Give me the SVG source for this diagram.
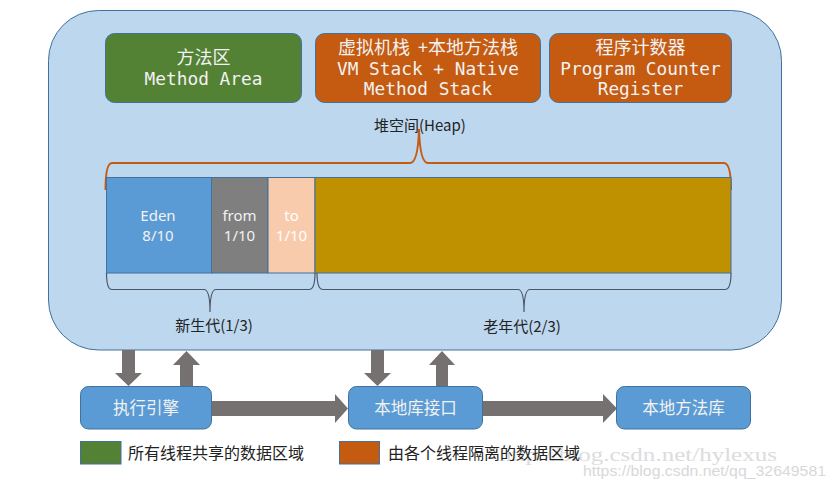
<svg xmlns="http://www.w3.org/2000/svg" width="833" height="489" viewBox="0 0 833 489">
<style>
.cjk{font-family:"Noto Sans CJK SC","Liberation Sans",sans-serif}
.mono{font-family:"DejaVu Sans Mono","Noto Sans CJK SC",monospace}
.w{fill:#f2f2f2}
.d{fill:#222}
.box{stroke:#41719c;stroke-width:1}
.arr{fill:#767171}
.brace{fill:none;stroke:#4a5868;stroke-width:1.2}
.lat{font-family:"Noto Sans","Liberation Sans",sans-serif}
</style>
<rect x="0" y="0" width="833" height="489" fill="#ffffff"/>
<g id="jvm">
<rect x="48.5" y="10.5" width="733" height="339.5" rx="50" ry="50" fill="#bdd7ee" stroke="#41719c" stroke-width="1"/>
</g>
<g id="method-area">
<rect class="box" x="105.5" y="33.5" width="196" height="69" rx="9" fill="#548235"/>
<text class="cjk w" x="203.5" y="64" font-size="18" text-anchor="middle">方法区</text>
<text class="mono w" x="203.5" y="84.5" font-size="17.8" text-anchor="middle">Method Area</text>
</g>
<g id="vm-stack">
<rect class="box" x="315.5" y="33.5" width="225" height="69" rx="9" fill="#c55a11"/>
<text class="cjk w" x="428" y="54" font-size="18" text-anchor="middle" xml:space="preserve">虚拟机栈  +本地方法栈</text>
<text class="mono w" x="428" y="74.5" font-size="17.8" text-anchor="middle">VM Stack + Native</text>
<text class="mono w" x="428" y="94.5" font-size="17.8" text-anchor="middle">Method Stack</text>
</g>
<g id="pc-register">
<rect class="box" x="549.5" y="33.5" width="182" height="69" rx="9" fill="#c55a11"/>
<text class="cjk w" x="640.5" y="54" font-size="18" text-anchor="middle">程序计数器</text>
<text class="mono w" x="640.5" y="74.5" font-size="17.8" text-anchor="middle">Program Counter</text>
<text class="mono w" x="640.5" y="94.5" font-size="17.8" text-anchor="middle">Register</text>
</g>
<g id="heap">
<text class="cjk d" x="420" y="131" font-size="15" text-anchor="middle">堆空间(Heap)</text>
<path d="M105.5,190 Q105.5,163 112,163 L410,163 Q418,163 419,129 Q420,163 428,163 L724,163 Q731,163 731,190" fill="none" stroke="#c55a11" stroke-width="2"/>
</g>
<g id="eden">
<rect class="box" x="106.5" y="177.5" width="105" height="95.5" fill="#5b9bd5"/>
<text class="lat w" x="158" y="221" font-size="15" text-anchor="middle">Eden</text>
<text class="lat w" x="158" y="241" font-size="15" text-anchor="middle">8/10</text>
</g>
<g id="from">
<rect class="box" x="211.5" y="177.5" width="56.5" height="95.5" fill="#7f7f7f"/>
<text class="lat w" x="239.5" y="221" font-size="15" text-anchor="middle">from</text>
<text class="lat w" x="239.5" y="241" font-size="15" text-anchor="middle">1/10</text>
</g>
<g id="to">
<rect class="box" x="268" y="177.5" width="47" height="95.5" fill="#f8cbad"/>
<text class="lat" x="291.5" y="221" font-size="15" fill="#ffffff" text-anchor="middle">to</text>
<text class="lat" x="291.5" y="241" font-size="15" fill="#ffffff" text-anchor="middle">1/10</text>
</g>
<g id="old">
<rect class="box" x="315" y="177.5" width="416" height="95.5" fill="#bf9000"/>
</g>
<g id="young-gen">
<path class="brace" d="M106.5,273 Q106.5,289.5 112,289.5 L204,289.5 Q210,289.5 210,312 Q210,289.5 216,289.5 L309,289.5 Q315,289.5 315,273"/>
<text class="cjk d" x="214" y="331" font-size="15" text-anchor="middle">新生代(1/3)</text>
</g>
<g id="old-gen">
<path class="brace" d="M317,273 Q317,289.5 323,289.5 L518,289.5 Q524,289.5 524,312 Q524,289.5 530,289.5 L725,289.5 Q731,289.5 731,273"/>
<text class="cjk d" x="522" y="332" font-size="15" text-anchor="middle">老年代(2/3)</text>
</g>
<g id="connectors">
<polygon class="arr" points="122,350 135,350 135,373 142,373 128.5,386 115,373 122,373"/>
<polygon class="arr" points="180,386 193,386 193,365 200,365 186.5,351 173,365 180,365"/>
<polygon class="arr" points="371,350 384,350 384,373 391,373 377.5,386 364,373 371,373"/>
<polygon class="arr" points="436,386 448,386 448,365 455,365 442,351 429,365 436,365"/>
<polygon class="arr" points="211,401 335,401 335,394 348,408.5 335,423 335,416 211,416"/>
<polygon class="arr" points="482,401 603,401 603,394 617,408.5 603,423 603,416 482,416"/>
</g>
<g id="exec-engine">
<rect class="box" x="80.5" y="386.5" width="131" height="42.5" rx="8" fill="#5b9bd5"/>
<text class="cjk w" x="146" y="414" font-size="16.5" text-anchor="middle">执行引擎</text>
</g>
<g id="native-interface">
<rect class="box" x="348.5" y="386.5" width="134" height="42.5" rx="8" fill="#5b9bd5"/>
<text class="cjk w" x="415.5" y="414" font-size="16.5" text-anchor="middle">本地库接口</text>
</g>
<g id="native-library">
<rect class="box" x="616.5" y="386.5" width="134" height="42.5" rx="8" fill="#5b9bd5"/>
<text class="cjk w" x="683.5" y="414" font-size="16.5" text-anchor="middle">本地方法库</text>
</g>
<g id="watermark">
<text x="499" y="461" font-size="19" fill="#dcdcdc" font-family="'Liberation Serif',serif" textLength="278" lengthAdjust="spacingAndGlyphs">http://blog.csdn.net/hylexus</text>
<text x="583" y="476" font-size="14.5" fill="#d8d8d8" font-family="'Liberation Sans',sans-serif" textLength="243" lengthAdjust="spacingAndGlyphs">https://blog.csdn.net/qq_32649581</text>
</g>
<g id="legend">
<rect x="80.5" y="441.5" width="40.5" height="22.5" fill="#548235" stroke="#41719c" stroke-width="1"/>
<text class="cjk d" x="128" y="459" font-size="16">所有线程共享的数据区域</text>
<rect x="339.5" y="441.5" width="40" height="22.5" fill="#c55a11" stroke="#41719c" stroke-width="1"/>
<text class="cjk d" x="388" y="459" font-size="16">由各个线程隔离的数据区域</text>
</g>
</svg>
